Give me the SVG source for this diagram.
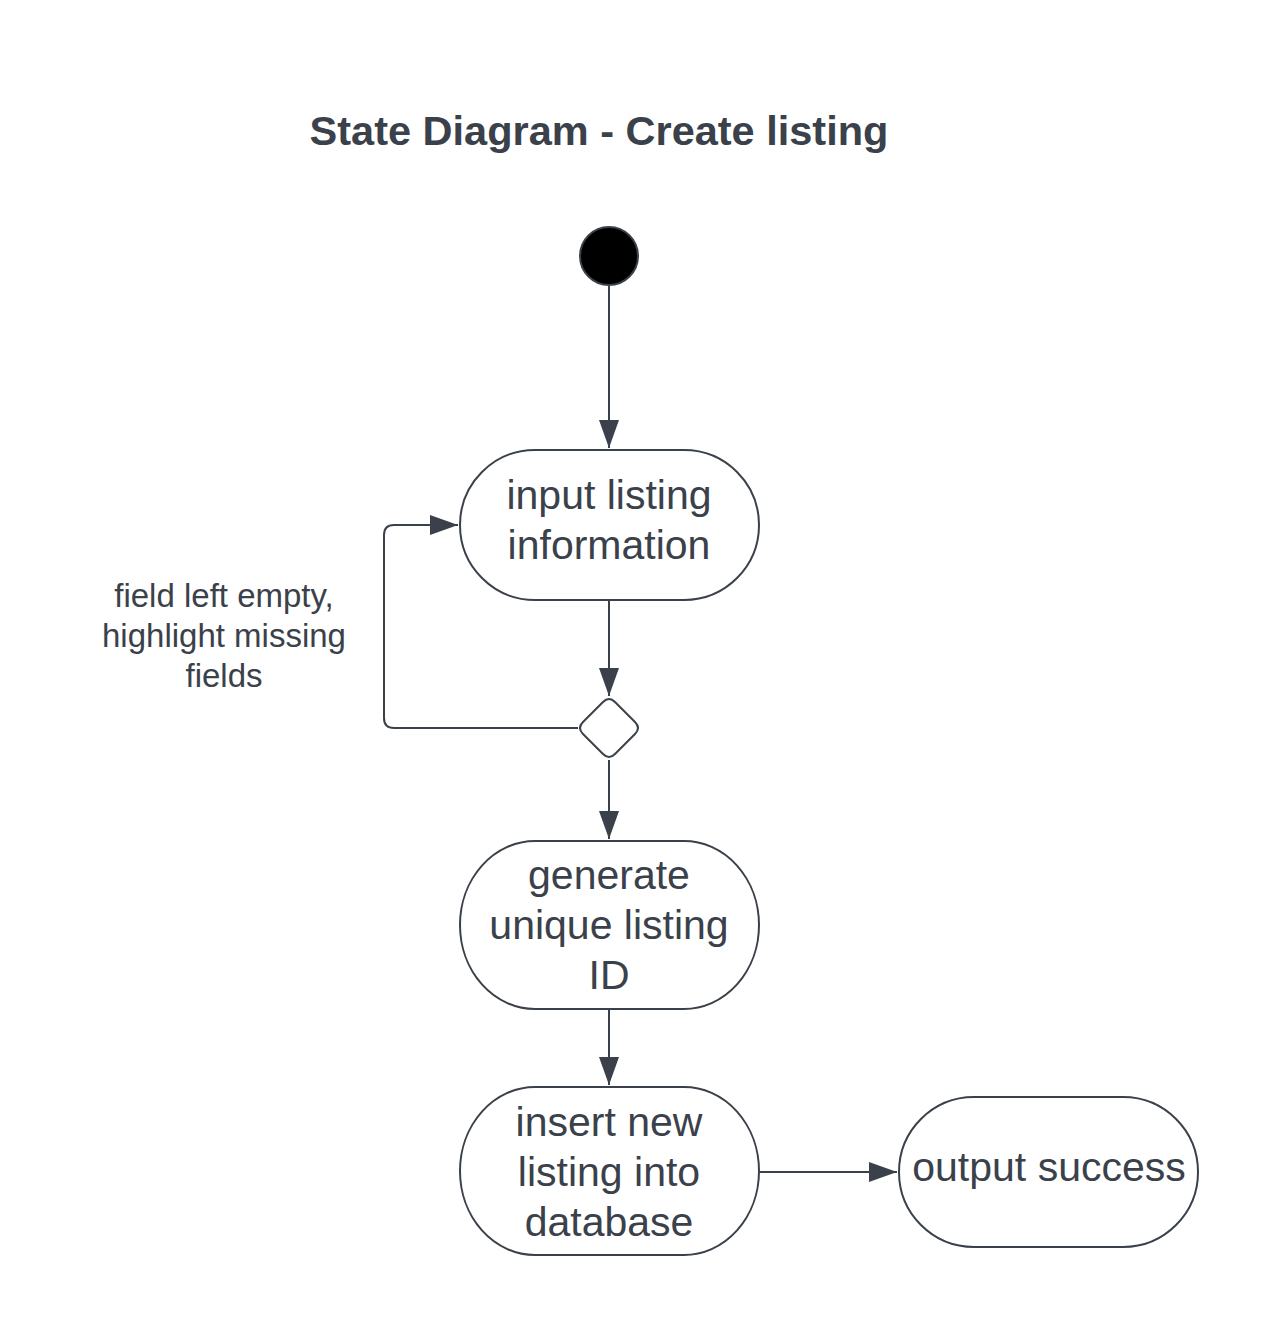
<svg xmlns="http://www.w3.org/2000/svg" width="1275" height="1331" viewBox="0 0 1275 1331">
<style>
.st{fill:#ffffff;stroke:#3a414a;stroke-width:2}
.t{font-family:"Liberation Sans",Arial,sans-serif;font-size:41px;fill:#3a414a;text-anchor:middle}
.lbl{font-family:"Liberation Sans",Arial,sans-serif;font-size:33px;fill:#3a414a;text-anchor:middle}
.title{font-family:"Liberation Sans",Arial,sans-serif;font-size:41.5px;font-weight:bold;fill:#3a414a;text-anchor:middle}
.c{fill:none;stroke:#3a414a;stroke-width:2}
</style>
<defs>
<marker id="arr" viewBox="0 0 28 20" refX="28" refY="10" markerWidth="28" markerHeight="20" markerUnits="userSpaceOnUse" orient="auto">
<path d="M0,0 L28,10 L0,20 Z" fill="#3a414a"/>
</marker>
</defs>
<rect width="1275" height="1331" fill="#ffffff"/>
<text class="title" x="599" y="145">State Diagram - Create listing</text>

<g id="connectors">
<path class="c" d="M609,286 L609,448" marker-end="url(#arr)"/>
<path class="c" d="M609,600 L609,696" marker-end="url(#arr)"/>
<path class="c" d="M578,728 L394,728 Q384,728 384,718 L384,535 Q384,525 394,525 L458,525" marker-end="url(#arr)"/>
<path class="c" d="M609,760 L609,839" marker-end="url(#arr)"/>
<path class="c" d="M609,1009 L609,1085" marker-end="url(#arr)"/>
<path class="c" d="M759,1172 L897,1172" marker-end="url(#arr)"/>
</g>

<g id="start">
<circle cx="609" cy="256" r="29" fill="#000000" stroke="#3a414a" stroke-width="2"/>
</g>

<g id="input">
<rect class="st" x="460" y="450" width="299" height="150" rx="75" ry="75"/>
<text class="t" x="609" y="509">input listing</text>
<text class="t" x="609" y="559">information</text>
</g>

<g id="decision">
<path class="st" d="M603,702 Q609,696 615,702 L635,722 Q641,728 635,734 L615,754 Q609,760 603,754 L583,734 Q577,728 583,722 Z"/>
</g>

<g id="loop-label">
<text class="lbl" x="224" y="607">field left empty,</text>
<text class="lbl" x="224" y="647">highlight missing</text>
<text class="lbl" x="224" y="687">fields</text>
</g>

<g id="generate">
<rect class="st" x="460" y="841" width="299" height="168" rx="75" ry="84"/>
<text class="t" x="609" y="889">generate</text>
<text class="t" x="609" y="939">unique listing</text>
<text class="t" x="609" y="989">ID</text>
</g>

<g id="insert">
<rect class="st" x="460" y="1087" width="299" height="168" rx="75" ry="84"/>
<text class="t" x="609" y="1136">insert new</text>
<text class="t" x="609" y="1186">listing into</text>
<text class="t" x="609" y="1236">database</text>
</g>

<g id="output">
<rect class="st" x="899" y="1097" width="299" height="150" rx="75" ry="75"/>
<text class="t" x="1049" y="1181">output success</text>
</g>
</svg>
